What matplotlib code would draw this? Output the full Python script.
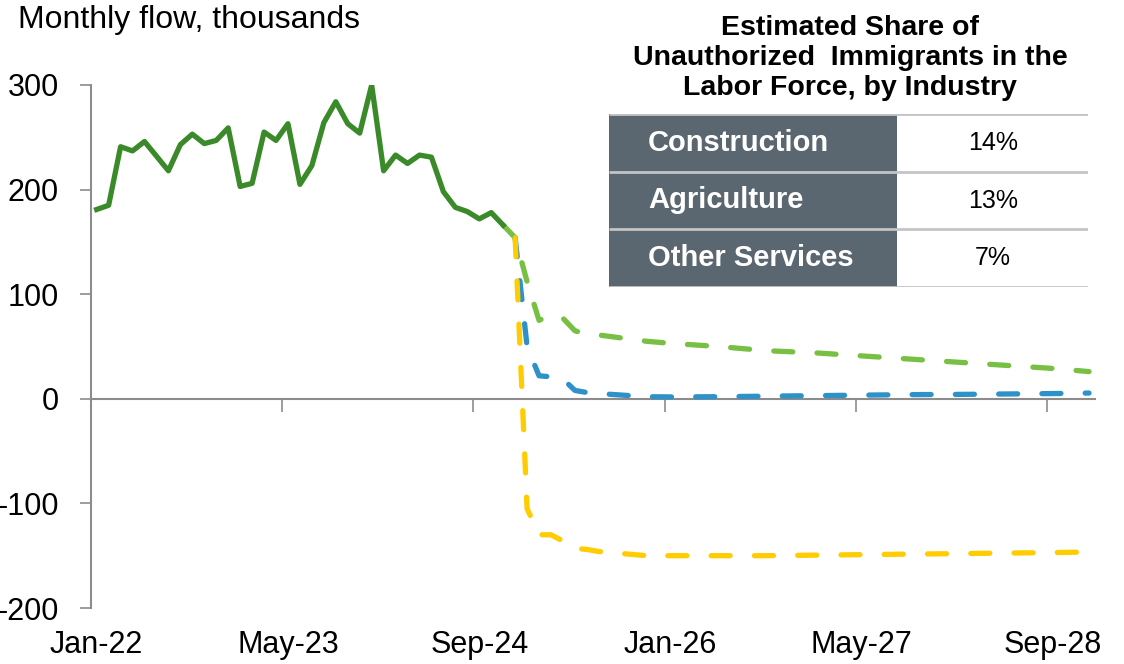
"""
Monthly immigrant flow: history and three projection scenarios,
with a small table of industry shares.
"""
import matplotlib
matplotlib.use('Agg')
import matplotlib.pyplot as plt
from matplotlib.patches import Rectangle

plt.rcParams['font.family'] = ['Liberation Sans', 'DejaVu Sans']
plt.rcParams['axes.unicode_minus'] = False

# months are counted from Jan-22 (0) to Dec-28 (83)
tick_labels = ['Jan-22', 'May-23', 'Sep-24', 'Jan-26', 'May-27', 'Sep-28']
label_months = [0, 16, 32, 48, 64, 80]

# history, Jan-22 .. Nov-24
hist = [181, 185, 241, 237, 246, 232, 218, 243, 253, 244, 247, 259,
        203, 206, 255, 247, 263, 205, 223, 264, 284, 263, 254, 300,
        218, 233, 225, 233, 231, 198, 183, 179, 172, 178, 166]

# projections (month index, value)
proj_months = [35, 36, 37, 38, 39, 40, 41, 42, 44, 46, 48, 52, 56, 60, 64, 68, 72, 76, 80, 83]
proj_green = [154, 112, 75, 80, 77, 65, 62, 61, 58, 55, 53, 50, 46, 44, 41, 38, 35, 32, 29, 26]
proj_blue = [154, 50, 22, 21, 19, 8, 6, 5, 3.5, 2, 1.8, 2, 2.5, 3, 3.5, 4, 4.2, 4.6, 5, 5.5]
proj_yellow = [154, -105, -130, -130, -136, -143, -144, -146, -148, -150, -150, -150,
               -150, -149.5, -149, -148.5, -148, -147.5, -147, -146.5]

industries = ['Construction', 'Agriculture', 'Other Services']
shares = ['14%', '13%', '7%']

fig = plt.figure(figsize=(11.24, 6.64), dpi=100)
W, H = 1124, 664
ax = fig.add_axes([90.7 / W, 1 - 608 / H, (1095 - 90.7) / W, (608 - 85) / H])

lw = 3.8
dash = (3.6, 4.6)
ax.plot([34] + proj_months, [hist[-1]] + proj_green, color='#77c043', lw=lw,
        dashes=dash, dash_capstyle='round', zorder=3)
ax.plot(proj_months, proj_blue, color='#2e92c8', lw=lw,
        dashes=dash, dash_capstyle='round', zorder=4)
ax.plot(proj_months, proj_yellow, color='#ffcc00', lw=lw,
        dashes=dash, dash_capstyle='round', zorder=5)
ax.plot(range(len(hist)), hist, color='#3a8a2a', lw=lw, zorder=6)

ax.set_xlim(-0.5, 83.5)
ax.set_ylim(-200, 300)
ax.set_yticks([-200, -100, 0, 100, 200, 300])
ax.tick_params(axis='y', length=8, width=1.2, color='#8c8c8c', labelsize=22, pad=15)

ax.spines['top'].set_visible(False)
ax.spines['right'].set_visible(False)
ax.spines['bottom'].set_position(('data', 0))
for s in ['left', 'bottom']:
    ax.spines[s].set_color('#8c8c8c')
    ax.spines[s].set_linewidth(1.5)

ax.set_xticks([m - 0.5 for m in label_months])
ax.set_xticklabels([])
ax.tick_params(axis='x', length=9, width=1.2, color='#8c8c8c', direction='out')
for m, lab in zip(label_months, tick_labels):
    ax.text(m, -0.071, lab, transform=ax.get_xaxis_transform(),
            ha='center', va='center', fontsize=22)

fig.text(18 / W, 1 - 20 / H, 'Monthly flow, thousands', ha='left', va='center', fontsize=23)

# table
fig.text(850 / W, 1 - 58 / H,
         'Estimated Share of\nUnauthorized  Immigrants in the\nLabor Force, by Industry',
         ha='center', va='center', fontsize=20.5, fontweight='bold', linespacing=1.18)

tab = fig.add_axes([609 / W, 1 - 287 / H, (1088 - 609) / W, (287 - 114) / H])
tab.set_xlim(609, 1088)
tab.set_ylim(3, 0)
tab.axis('off')
for r, (name, val) in enumerate(zip(industries, shares)):
    tab.add_patch(Rectangle((609, r), 897 - 609, 1, facecolor='#5a6670', edgecolor='none'))
    tab.text(648, r + 0.5, name, color='white', fontsize=21, fontweight='bold',
             ha='left', va='center')
    tab.text(993, r + 0.5, val, color='black', fontsize=18, ha='center', va='center')
for r in range(4):
    tab.plot([609, 1088], [r, r], color='#c4c4c4', lw=2, solid_capstyle='butt')

fig.savefig('out.png', dpi=100)
